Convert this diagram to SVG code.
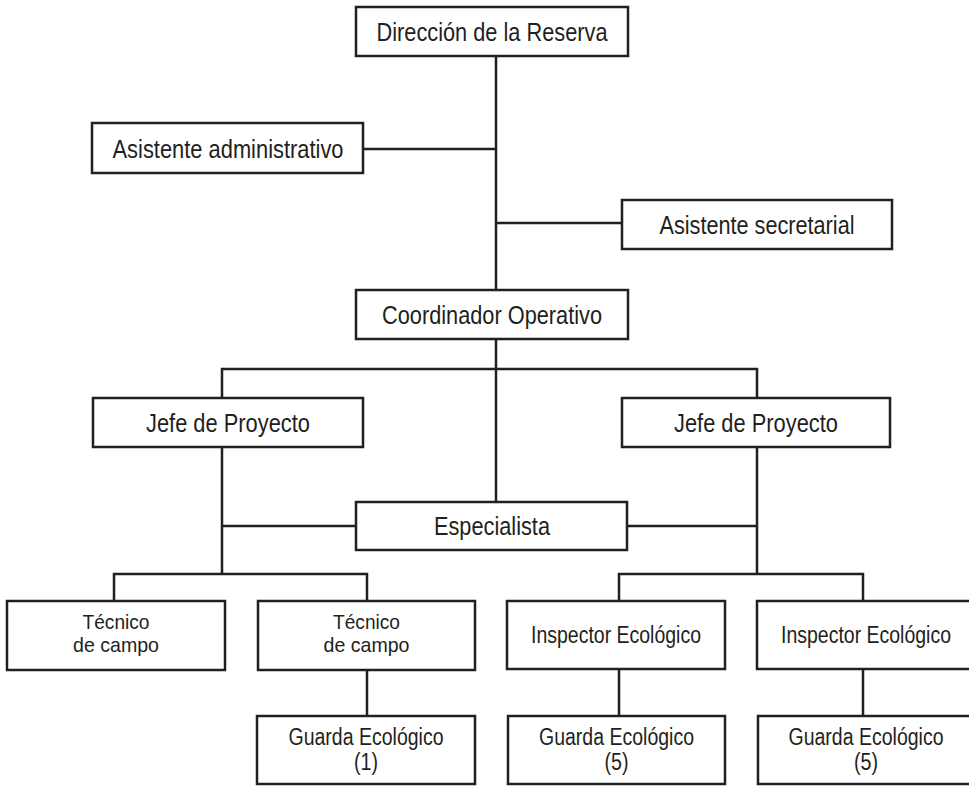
<svg xmlns="http://www.w3.org/2000/svg" width="969" height="786" viewBox="0 0 969 786">
<style>
  .box { fill: #ffffff; stroke: #231f20; stroke-width: 2.5; }
  .lbl { font-family: "Liberation Sans", Arial, sans-serif; font-size: 25px; fill: #231f20; text-anchor: middle; }
  .sm { font-size: 23px; }
  .xs { font-size: 21px; }
  .conn { stroke: #231f20; stroke-width: 2.5; fill: none; }
</style>
<rect width="969" height="786" fill="#ffffff"/>
<g id="connectors" class="conn">
  <path d="M496 56 V290"/>
  <path d="M363 149 H496"/>
  <path d="M496 223 H622"/>
  <path d="M496 339 V502"/>
  <path d="M222 398 V369 H757 V398"/>
  <path d="M222 447 V574"/>
  <path d="M222 526 H356"/>
  <path d="M757 447 V574"/>
  <path d="M627 526 H757"/>
  <path d="M114 601 V574 H367 V601"/>
  <path d="M619 601 V574 H863 V601"/>
  <path d="M367 670 V716"/>
  <path d="M619 669 V716"/>
  <path d="M863 669 V716"/>
</g>
<g id="direccion">
  <rect class="box" x="356" y="7" width="272" height="49"/>
  <text class="lbl" x="492" y="40.5" textLength="231" lengthAdjust="spacingAndGlyphs">Dirección de la Reserva</text>
</g>
<g id="asist-admin">
  <rect class="box" x="92" y="123" width="271" height="50"/>
  <text class="lbl" x="228" y="157.5" textLength="231" lengthAdjust="spacingAndGlyphs">Asistente administrativo</text>
</g>
<g id="asist-secr">
  <rect class="box" x="622" y="200" width="270" height="49"/>
  <text class="lbl" x="757" y="233.5" textLength="195" lengthAdjust="spacingAndGlyphs">Asistente secretarial</text>
</g>
<g id="coordinador">
  <rect class="box" x="356" y="290" width="272" height="49"/>
  <text class="lbl" x="492" y="323.5" textLength="220" lengthAdjust="spacingAndGlyphs">Coordinador Operativo</text>
</g>
<g id="jefe-1">
  <rect class="box" x="93" y="398" width="270" height="49"/>
  <text class="lbl" x="228" y="431.5" textLength="164" lengthAdjust="spacingAndGlyphs">Jefe de Proyecto</text>
</g>
<g id="jefe-2">
  <rect class="box" x="622" y="398" width="268" height="49"/>
  <text class="lbl" x="756" y="431.5" textLength="164" lengthAdjust="spacingAndGlyphs">Jefe de Proyecto</text>
</g>
<g id="especialista">
  <rect class="box" x="356" y="502" width="271" height="48"/>
  <text class="lbl" x="492" y="535" textLength="116" lengthAdjust="spacingAndGlyphs">Especialista</text>
</g>
<g id="tecnico-1">
  <rect class="box" x="7" y="601" width="218" height="69"/>
  <text class="lbl xs" x="116" y="629" textLength="67" lengthAdjust="spacingAndGlyphs">Técnico</text>
  <text class="lbl xs" x="116" y="652" textLength="86" lengthAdjust="spacingAndGlyphs">de campo</text>
</g>
<g id="tecnico-2">
  <rect class="box" x="258" y="601" width="217" height="69"/>
  <text class="lbl xs" x="366.5" y="629" textLength="67" lengthAdjust="spacingAndGlyphs">Técnico</text>
  <text class="lbl xs" x="366.5" y="652" textLength="86" lengthAdjust="spacingAndGlyphs">de campo</text>
</g>
<g id="inspector-1">
  <rect class="box" x="507" y="601" width="218" height="68"/>
  <text class="lbl sm" x="616" y="643" textLength="170" lengthAdjust="spacingAndGlyphs">Inspector Ecológico</text>
</g>
<g id="inspector-2">
  <rect class="box" x="757" y="601" width="218" height="68"/>
  <text class="lbl sm" x="866" y="643" textLength="170" lengthAdjust="spacingAndGlyphs">Inspector Ecológico</text>
</g>
<g id="guarda-1">
  <rect class="box" x="257" y="716" width="218" height="68"/>
  <text class="lbl sm" x="366" y="745" textLength="155" lengthAdjust="spacingAndGlyphs">Guarda Ecológico</text>
  <text class="lbl sm" x="366" y="770" textLength="24" lengthAdjust="spacingAndGlyphs">(1)</text>
</g>
<g id="guarda-2">
  <rect class="box" x="508" y="716" width="217" height="68"/>
  <text class="lbl sm" x="616.5" y="745" textLength="155" lengthAdjust="spacingAndGlyphs">Guarda Ecológico</text>
  <text class="lbl sm" x="616.5" y="770" textLength="24" lengthAdjust="spacingAndGlyphs">(5)</text>
</g>
<g id="guarda-3">
  <rect class="box" x="758" y="716" width="218" height="68"/>
  <text class="lbl sm" x="866" y="745" textLength="155" lengthAdjust="spacingAndGlyphs">Guarda Ecológico</text>
  <text class="lbl sm" x="866" y="770" textLength="24" lengthAdjust="spacingAndGlyphs">(5)</text>
</g>
</svg>
